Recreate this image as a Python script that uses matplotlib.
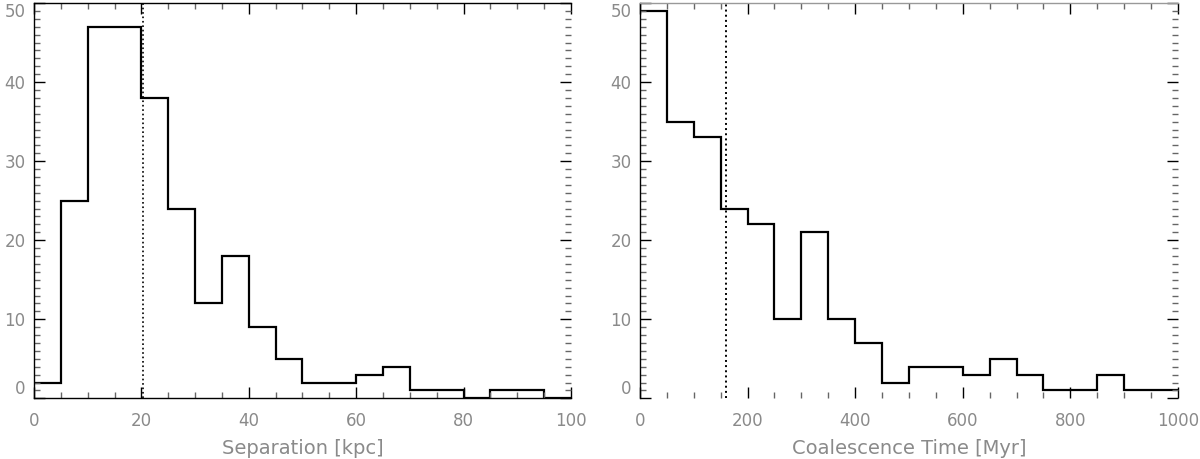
import numpy as np
import matplotlib
matplotlib.use("Agg")
import matplotlib.pyplot as plt
from matplotlib.ticker import MultipleLocator

# --- dati ---
sep_edges = np.arange(0, 105, 5)
sep_counts = [2, 25, 47, 47, 38, 24, 12, 18, 9, 5, 2, 2, 3, 4, 1, 1, 0, 1, 1, 0]
sep_median = 20.3

time_edges = np.arange(0, 1050, 50)
time_counts = [49, 35, 33, 24, 22, 10, 21, 10, 7, 2, 4, 4, 3, 5, 3, 1, 1, 3, 1, 1]
time_median = 160

sep_ticks = [0, 20, 40, 60, 80, 100]
time_ticks = [0, 200, 400, 600, 800, 1000]
y_ticks = [0, 10, 20, 30, 40, 50]

label_col = '#8a8a8a'

fig = plt.figure(figsize=(12, 4.59), dpi=100)
ax1 = fig.add_axes([0.0283, 0.1322, 0.4475, 0.8612])
ax2 = fig.add_axes([0.5333, 0.1322, 0.4483, 0.8612])

ax1.stairs(sep_counts, sep_edges, baseline=None, color='black', lw=1.6)
ax1.axvline(sep_median, color='black', ls=':', lw=1.2)
ax2.stairs(time_counts, time_edges, baseline=None, color='black', lw=1.6)
ax2.axvline(time_median, color='black', ls=':', lw=1.4)


def stile(ax, xmax, xticks, xmin, xlabel):
    ax.set_xlim(0, xmax)
    ax.set_ylim(0, 50)
    ax.set_xticks(xticks)
    ax.xaxis.set_minor_locator(MultipleLocator(xmin))
    ax.set_yticks(y_ticks)
    ax.yaxis.set_minor_locator(MultipleLocator(1))
    ax.tick_params(which='both', direction='in', top=True, right=True,
                   colors='black', labelcolor=label_col, labelsize=12)
    ax.tick_params(which='major', length=8, width=1)
    ax.tick_params(which='minor', length=4, width=1, color='#666666')
    ax.tick_params(axis='x', pad=10)
    ax.tick_params(axis='y', pad=6)
    ax.set_xlabel(xlabel, fontsize=14, color=label_col, labelpad=6)
    ax.spines['right'].set_visible(False)
    for s in ax.spines.values():
        s.set_linewidth(1)


stile(ax1, 100, sep_ticks, 5, 'Separation [kpc]')
stile(ax2, 1000, time_ticks, 50, 'Coalescence Time [Myr]')
ax2.spines['bottom'].set_visible(False)
ax2.spines['top'].set_color('#999999')

# etichette estreme spostate dentro, come nell'originale
fig.canvas.draw()
for ax in (ax1, ax2):
    labs = ax.yaxis.get_majorticklabels()
    labs[0].set_verticalalignment('bottom')
    labs[-1].set_verticalalignment('top')

fig.savefig('out.png', dpi=100)
